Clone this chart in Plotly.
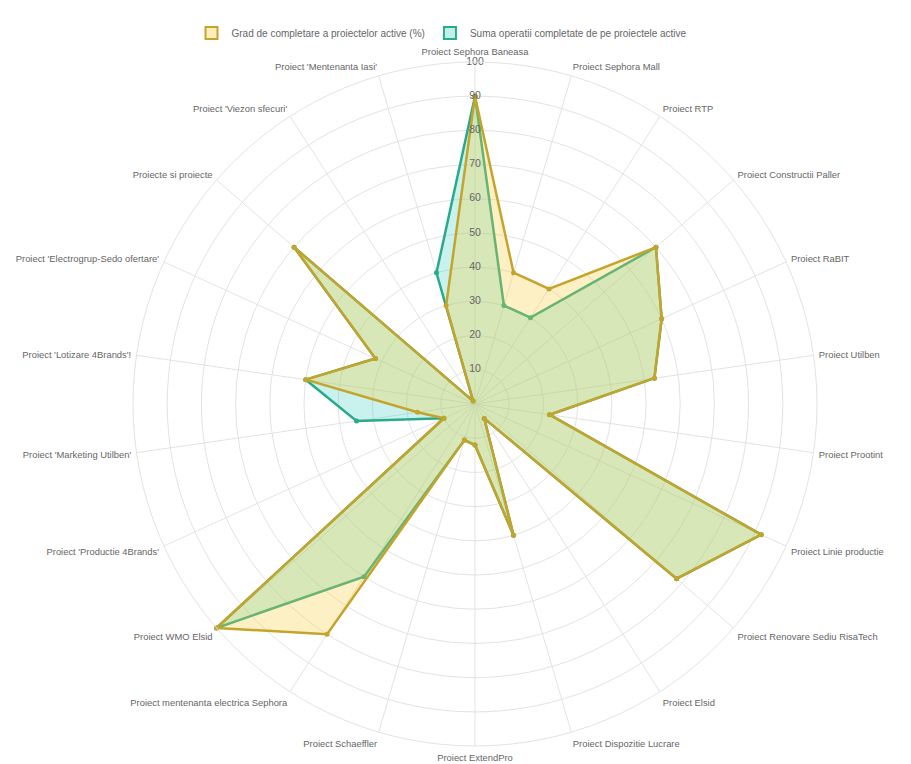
import plotly.graph_objects as go

categories = [
    "Proiect Sephora Baneasa",
    "Proiect Sephora Mall",
    "Proiect RTP",
    "Proiect Constructii Paller",
    "Proiect RaBIT",
    "Proiect Utilben",
    "Proiect Prootint",
    "Proiect Linie productie",
    "Proiect Renovare Sediu RisaTech",
    "Proiect Elsid",
    "Proiect Dispozitie Lucrare",
    "Proiect ExtendPro",
    "Proiect Schaeffler",
    "Proiect mentenanta electrica Sephora",
    "Proiect WMO Elsid",
    "Proiect 'Productie 4Brands'",
    "Proiect 'Marketing Utilben'",
    "Proiect 'Lotizare 4Brands'!",
    "Proiect 'Electrogrup-Sedo ofertare'",
    "Proiecte si proiecte",
    "Proiect 'Viezon sfecuri'",
    "Proiect 'Mentenanta Iasi'",
]

grad_completare = [90, 40, 40, 70, 60, 53, 22, 92, 78, 5, 40, 12, 11, 80, 100, 10, 17, 50, 32, 70, 1, 30]
suma_operatii = [90, 30, 30, 70, 60, 53, 22, 92, 78, 5, 40, 12, 11, 60, 100, 10, 35, 50, 32, 70, 1, 40]

radial_ticks = [10, 20, 30, 40, 50, 60, 70, 80, 90, 100]

name_grad = "Grad de completare a proiectelor active (%)"
name_suma = "Suma operatii completate de pe proiectele active"

GOLD_LINE = "#c4a42a"
GOLD_FILL = "rgba(248,205,58,0.3)"
TEAL_LINE = "#2aa98b"
TEAL_FILL = "rgba(75,212,198,0.3)"

def closed(seq):
    return list(seq) + [seq[0]]

fig = go.Figure()

# legend boxes (rectangular swatches like the reference)
for nm, fc, lc in [(name_grad, "rgba(248,205,58,0.35)", GOLD_LINE),
                   (name_suma, "rgba(75,212,198,0.35)", TEAL_LINE)]:
    fig.add_trace(go.Barpolar(
        r=[0], theta=[categories[0]], name=nm,
        marker=dict(color=fc, line=dict(color=lc, width=2)),
        showlegend=True, hoverinfo="skip",
    ))

fig.add_trace(go.Scatterpolar(
    r=closed(suma_operatii), theta=closed(categories),
    name=name_suma, mode="lines+markers", fill="toself",
    fillcolor=TEAL_FILL,
    line=dict(color=TEAL_LINE, width=2.5),
    marker=dict(size=5, color=TEAL_LINE),
    showlegend=False,
))
fig.add_trace(go.Scatterpolar(
    r=closed(grad_completare), theta=closed(categories),
    name=name_grad, mode="lines+markers", fill="toself",
    fillcolor=GOLD_FILL,
    line=dict(color=GOLD_LINE, width=2.5),
    marker=dict(size=5, color=GOLD_LINE),
    showlegend=False,
))
# radial tick labels centred on the first spoke
fig.add_trace(go.Scatterpolar(
    r=radial_ticks, theta=[categories[0]] * len(radial_ticks),
    mode="text", text=[str(v) for v in radial_ticks],
    textposition="middle center",
    textfont=dict(family="Liberation Sans, Arial", size=10.5, color="#666666"),
    showlegend=False, hoverinfo="skip",
))

# page offset of the default 8px body margin is compensated here
W, H = 903, 756
cx, cy, R = 467, 396, 342

fig.update_layout(
    width=W, height=H,
    margin=dict(l=0, r=0, t=0, b=0),
    paper_bgcolor="white",
    font=dict(family="Liberation Sans, Arial, sans-serif", color="#666666", size=9),
    polar=dict(
        domain=dict(
            x=[(cx - R) / W, (cx + R) / W],
            y=[1 - (cy + R) / H, 1 - (cy - R) / H],
        ),
        bgcolor="white",
        radialaxis=dict(
            range=[0, 100], tickvals=radial_ticks, showticklabels=False,
            ticks="", showline=False, gridcolor="#e3e3e3", gridwidth=1,
            angle=90,
        ),
        angularaxis=dict(
            direction="clockwise", rotation=90,
            categoryorder="array", categoryarray=categories,
            gridcolor="#e3e3e3", linecolor="#e3e3e3", showline=True,
            ticks="outside", ticklen=3, tickcolor="rgba(0,0,0,0)",
            tickfont=dict(size=9.4, color="#666666"),
        ),
    ),
    legend=dict(
        orientation="h", x=434 / W, xanchor="center",
        y=1 - 25 / H, yanchor="middle",
        font=dict(size=10, color="#666666"),
        bgcolor="rgba(0,0,0,0)",
    ),
    showlegend=True,
)

fig.write_html("out.html")
